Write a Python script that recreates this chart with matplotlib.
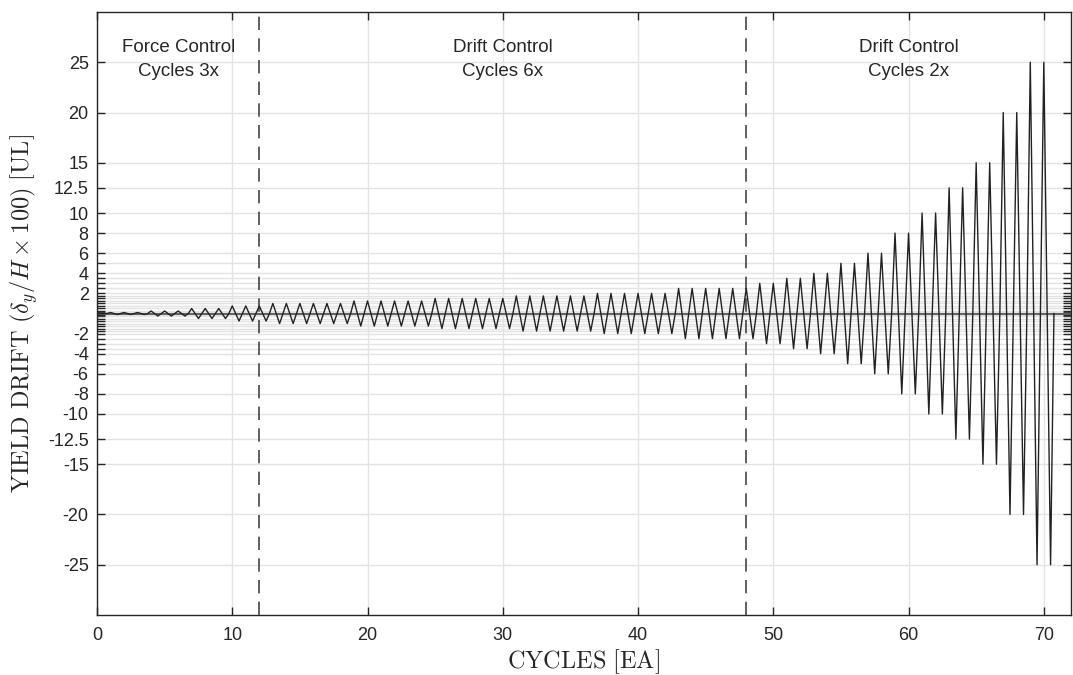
import numpy as np
import matplotlib
matplotlib.use("Agg")
import matplotlib.pyplot as plt

# =========================
# LOADING PROTOCOL DATA
# =========================
# amplitude levels (yield drift) and number of cycles per level
FORCE_LEVELS = [0.1, 0.25, 0.5, 0.75]
FORCE_REPEAT = 3
DRIFT6_LEVELS = [1.0, 1.25, 1.5, 1.75, 2.0, 2.5]
DRIFT6_REPEAT = 6
DRIFT2_LEVELS = [3.0, 3.5, 4.0, 5.0, 6.0, 8.0, 10.0, 12.5, 15.0, 20.0, 25.0]
DRIFT2_REPEAT = 2

# section boundaries (cycles) and labels
SECTION_BOUNDS = [12, 48]
SECTION_LABELS = ["Force Control\nCycles 3x", "Drift Control\nCycles 6x", "Drift Control\nCycles 2x"]
SECTION_LABEL_X = [6, 30, 60]

# y ticks: every amplitude level, labels only on some
TICK_LEVELS = FORCE_LEVELS + DRIFT6_LEVELS + DRIFT2_LEVELS
LABELED = [2, 4, 6, 8, 10, 12.5, 15, 20, 25]

# =========================
# BUILD SIGNAL
# =========================
amps = ([a for a in FORCE_LEVELS for _ in range(FORCE_REPEAT)]
        + [a for a in DRIFT6_LEVELS for _ in range(DRIFT6_REPEAT)]
        + [a for a in DRIFT2_LEVELS for _ in range(DRIFT2_REPEAT)])

xs, ys = [0.0], [0.0]
for i, a in enumerate(amps, start=1):
    xs += [i - 0.25, i, i + 0.25, i + 0.5, i + 0.75]
    ys += [0, a, 0, -a, 0]

# =========================
# FIGURE
# =========================
plt.rcParams["mathtext.fontset"] = "cm"
plt.rcParams["font.family"] = ["Liberation Sans", "DejaVu Sans"]

fig = plt.figure(figsize=(10.73, 6.75), dpi=100)
ax = fig.add_axes([0.0904, 0.0889, 0.9076, 0.8933])

grid_c = "#e3e3e3"
ax.set_xlim(0, 72)
ax.set_ylim(-30, 30)

xt = np.arange(0, 71, 10)
ax.set_xticks(xt)
ax.set_xticklabels([str(v) for v in xt])

yt = sorted([-v for v in TICK_LEVELS] + TICK_LEVELS)
ax.set_yticks(yt)
ylab = []
for v in yt:
    if abs(v) in LABELED:
        ylab.append(f"{v:g}")
    else:
        ylab.append("")
ax.set_yticklabels(ylab)

ax.grid(True, color=grid_c, linewidth=1.0)
ax.set_axisbelow(True)

ax.tick_params(direction="in", length=6, width=1.0, top=True, right=True,
               labelsize=13, colors="#262626", pad=6)
ax.tick_params(axis="x", pad=9)
for s in ax.spines.values():
    s.set_color("#262626")
    s.set_linewidth(1.0)

# zero line
ax.axhline(0, color="#555555", linewidth=1.3, zorder=2)

# section boundaries
for b in SECTION_BOUNDS:
    ax.axvline(b, color="#444444", linewidth=1.2, linestyle=(0, (8, 5)), zorder=3)

# protocol signal
ax.plot(xs, ys, color="#222222", linewidth=1.0, zorder=4)

# section labels
for lx, txt in zip(SECTION_LABEL_X, SECTION_LABELS):
    ax.text(lx, 25.25, txt, ha="center", va="center", fontsize=13.5,
            color="#262626", linespacing=1.55)

ax.set_xlabel(r"$\mathrm{CYCLES\ [EA]}$", fontsize=17.5, color="#262626", labelpad=2)
ax.set_ylabel(r"$\mathrm{YIELD\ DRIFT\ }(\delta_y/H\times100)\mathrm{\ [UL]}$",
              fontsize=17.5, color="#262626", labelpad=6)

fig.savefig("out.png", dpi=100)
